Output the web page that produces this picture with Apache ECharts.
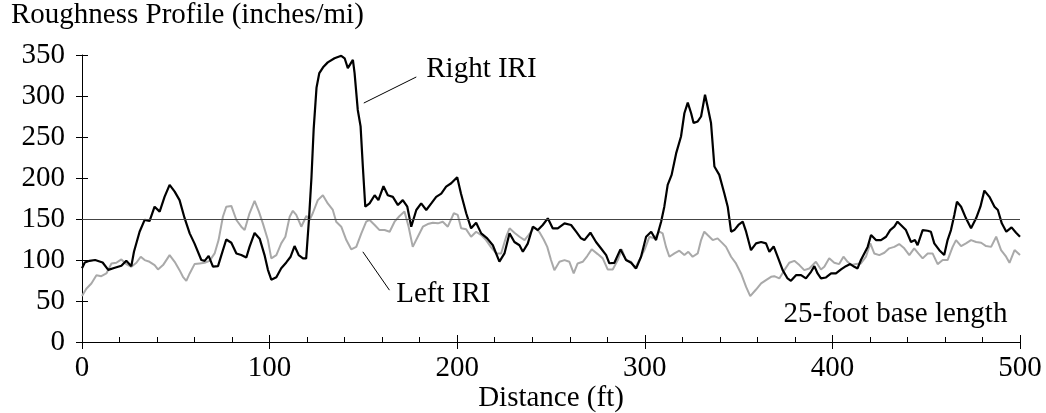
<!DOCTYPE html>
<html><head><meta charset="utf-8">
<script src="https://cdn.jsdelivr.net/npm/echarts@6/dist/echarts.min.js"></script>
<style>html,body{margin:0;padding:0;background:#fff}#c{width:1046px;height:413px}</style>
</head><body><div id="c"></div>
<script>
// ---- Data ----
const chartTitle = 'Roughness Profile (inches/mi)';
const xAxisTitle = 'Distance (ft)';
const yTicks = [0, 50, 100, 150, 200, 250, 300, 350];
const xTicks = [0, 100, 200, 300, 400, 500];
const thresholdValue = 150;

const rightDist = [0,1.5,4,7,11,14,17.5,21,23.6,26.3,27.7,30.7,33.4,36,38.7,41.4,44,46.7,49.4,52,54.7,57.4,60,63.6,65.4,67.5,69.8,72.5,74.3,76.9,79.6,82.3,84.9,87.6,89.3,92,94.7,97.3,99.1,100.9,103.6,106.2,108.9,111.2,113.3,115.5,117.8,119.5,121,122.3,123.5,125,126.5,128.5,131,134.6,138.2,140,141.7,144.4,145.3,147,148.5,149.7,151,153.3,156,158,160.7,163,165.7,168.4,171,173.4,175.5,178.2,180.8,183.5,186.2,188.8,191.5,194.1,196.8,200,202,204.8,207.4,210.1,212.8,216,219,222.5,225.2,227.9,230.5,233.2,235,237.6,240.3,243,245.6,248.3,250.9,253.6,257.2,260.7,263.4,266,267.8,271,274,276.7,279.4,281.1,283.8,287,290,292.7,295.4,298,300.7,303.4,306,308.7,310.4,312.2,314.3,316.7,319.3,321.1,322.9,324.7,326,328.2,330,332.1,333.5,335.3,337.1,339.7,342.4,344.2,346,347.7,349.9,352.2,354,356.6,359.3,362,364.6,366.4,368.7,370.8,373.5,376.1,377.9,380.6,383.3,385.9,388.6,390.4,392.1,393.9,396.6,399.3,401.9,404.6,407.2,409.5,411.7,413.4,415.2,417,418.8,420.6,423.2,425.9,428.6,430.8,433,434.7,436.5,439.2,441.9,444,445.4,448.1,450.8,452.5,454.3,457,459.6,461.4,463.2,465,466.4,468.6,471.2,473.9,476.6,478.9,481,483.7,486.4,488.2,490.3,492.7,495.5,497.9,500];
const rightIRI = [90,97,99,100,97,88,90.5,93,99,92.5,110,134.5,149,147.5,165,159,177,191.6,183.4,173,151,132.5,120,100,99,105,92,92.5,106,125,121,108,106,103,116,133,126,106,88,76,79,90,97,104,117,106,102,102,150,200,260,310,328,335,341,346,349,346,334,344,328,283,263,214,165,169,179,173,190,179,177,167,173,165,140.6,161,169,161,169,177,181,189.5,193.6,201,181,157,138.6,145.5,132.5,126.4,118,98,108,132.5,122,118,110,120,140.6,136.5,142.7,150.8,138.6,138.6,144.7,142.7,134.5,126.4,124.3,133.3,122,114,106,96,96.6,113,100,96.6,89.7,104,128.4,134.5,124.3,146.7,165,191.6,203.8,230,250.6,279,292,279,267,269,275,301.6,287,267,214,203.8,181,165,134.5,136.5,142.7,146.7,134.5,112,120.3,122,120.3,110,116.5,104,87.6,77.5,74.6,81.5,81.5,77.5,85.6,92.5,83.6,77.5,78.7,83.6,83.6,88.5,92.5,95,91.7,89.7,100,108,116,130.4,124.3,124.3,128.4,136.5,140.6,146.7,142.7,136.5,122,124.3,118,136.5,135.7,134.5,120.3,112,106,124.3,136.5,155,171,165,150.8,138.6,150.8,165,184.6,177,165,161,144.7,134.5,139.8,133.3,128.4];

const leftDist = [0,2.3,5,7.7,10.3,13,15.7,18.3,21,23.6,26.3,29,31.3,33.4,36,38.7,40.5,43.2,46.7,49.4,52,53.8,55.6,57.4,60,62.7,65.4,68,70.7,72.8,75.1,76.9,79.6,82.3,84.9,86.7,89.3,92,94.3,96.4,99.1,100.9,103.6,106.2,108.4,110.7,112.4,114.2,116.9,119.6,121.3,123,125.7,128.4,131,133.7,135.5,138.2,140.9,143.5,146.2,148.9,151.5,153.3,156,158.6,161.3,164,166.6,169.3,171.9,174.1,176.3,179,181.7,184.3,187,189.7,192.3,195,198.2,200.3,202.1,204.8,207.4,210.1,212.8,215.4,218.1,220.8,223.4,226.1,227.9,230.5,233.2,235.9,238,241.2,243.8,246.1,248,250,251.8,254.5,257.2,259.8,262.1,264.2,266.9,269.3,271.7,274.9,277.6,280.2,282.9,285.6,287.7,290,292.7,294.8,297.1,299.8,302.5,305.1,307.8,309.5,311.3,313.1,315.8,318.4,321.1,323.2,325.5,328.2,330,331.7,333.5,336.2,338.8,341.5,343.3,346,348.6,351.3,354,356.2,359.3,362,364.6,367.3,369,371.7,374.4,377,379.7,382.4,385,387.7,391.2,393.9,395.7,398.3,401,403.6,405.9,408.1,410.2,412.6,415.2,417.9,420.2,422.3,425,427.7,430.3,433,435.6,438.3,441,443.6,445.8,448.1,450.8,453.4,456.1,458.8,461.4,464.1,465.9,468.6,471.2,473.9,476.6,479.3,481.9,484.6,487.3,489.9,492.6,494.4,497.1,500];
const leftIRI = [56,65,71.4,81.5,80.3,83.6,95.8,96.6,100.7,95,91.7,96.6,104,99.9,97.8,93.8,88.5,93.8,106,97.8,87.6,79.5,74.6,83.6,95,95.8,96.6,99,108,124.3,152.8,165,165.9,148.8,140.6,136.5,157,172,159,144.7,124.3,102,106,120.3,128.4,152.8,160,155,140.6,153.7,148.8,157,173,179,169,161,146.7,140.6,124.3,113,116,132.5,146.7,148.8,142.7,136.5,136.5,134.5,146.7,153.7,159,140.6,116,128.4,140.6,143.9,145.5,144.7,146.7,140.6,157,155,138.6,137.4,128.4,134.5,130.4,124.3,115.4,108,108,128.4,138.6,133.3,128.4,124.3,130.4,140,134,125,116,100,87.6,97.8,99.9,97.8,83.6,95.8,97.8,104.8,113,107.2,102,88.5,88.5,99.9,113,99.9,97.8,89.7,99.9,112.1,128.4,126.4,134.5,132.5,116,104,108,111.3,106,110,104,108,124.3,134.5,130.4,124.3,126.4,120.3,116,104,95.8,83.6,67.2,56,64,71.4,75.4,79.5,80.3,77.5,87.6,96.6,99,93.8,87.6,89.7,97.8,88.5,91.7,102,96.6,95,104,97.8,93.8,95,95.8,104,120.3,108,106,108.8,114.2,116,119.4,114.2,106,114.2,108,102,108,108,95,99.9,99.9,116,124.3,117,120.3,124.3,122,121,117,116,128.4,112.1,104,96.6,112.1,106];

// annotation texts (anchored in data coordinates)
const rightLabel = 'Right IRI', rightLabelAt = [183.5, 332], rightLeader = [[150.2, 291.4], [178.2, 323.2]];
const leftLabel = 'Left IRI', leftLabelAt = [167.5, 57.7], leftLeader = [[149.7, 110], [163.9, 63.2]];
const noteLabel = '25-foot base length', noteLabelAt = [493.3, 33.9];

// ---- Chart ----
const F = '"Liberation Serif", "Times New Roman", "DejaVu Serif", serif';
const FS = 29;
const zip = (xs, ys) => xs.map((x, i) => [x, ys[i]]);
const chart = echarts.init(document.getElementById('c'), null, {renderer: 'canvas'});
const tickStyle = {color: '#000', width: 1};
chart.setOption({
  animation: false,
  backgroundColor: '#fff',
  title: {text: chartTitle, left: 11, top: 1, padding: 0,
    textStyle: {fontSize: FS, fontWeight: 'normal', fontFamily: F, color: '#000'}},
  grid: {left: 82, right: 26, top: 55, bottom: 71, containLabel: false, outerBoundsMode: 'none'},
  xAxis: [
    {type: 'value', min: xTicks[0], max: xTicks[xTicks.length - 1], interval: 100, position: 'bottom',
      name: xAxisTitle, nameLocation: 'middle', nameGap: 42, nameMoveOverlap: false,
      nameTextStyle: {fontSize: FS, fontFamily: F, color: '#000'},
      axisLine: {show: true, onZero: false, lineStyle: tickStyle},
      axisTick: {show: true, inside: false, length: 7, lineStyle: tickStyle},
      axisLabel: {fontSize: FS, fontFamily: F, color: '#000', margin: 12},
      splitLine: {show: false}},
    {type: 'value', min: xTicks[0], max: xTicks[xTicks.length - 1], interval: 100, position: 'bottom', offset: 0,
      axisLine: {show: false},
      axisTick: {show: true, inside: true, length: 7, lineStyle: tickStyle},
      minorTick: {show: true, splitNumber: 5, length: 5, lineStyle: tickStyle},
      axisLabel: {show: false}, splitLine: {show: false}, minorSplitLine: {show: false}}
  ],
  yAxis: [
    {type: 'value', min: yTicks[0], max: yTicks[yTicks.length - 1], interval: 50, position: 'left',
      axisLine: {show: true, onZero: false, lineStyle: tickStyle},
      axisTick: {show: true, inside: false, length: 6, lineStyle: tickStyle},
      axisLabel: {fontSize: FS, fontFamily: F, color: '#000', margin: 17},
      splitLine: {show: false}},
    {type: 'value', min: yTicks[0], max: yTicks[yTicks.length - 1], interval: 50, position: 'left', offset: 0,
      axisLine: {show: false},
      axisTick: {show: true, inside: true, length: 6, lineStyle: tickStyle},
      axisLabel: {show: false}, splitLine: {show: false}}
  ],
  series: [
    {name: 'Left IRI', type: 'line', xAxisIndex: 0, yAxisIndex: 0, data: zip(leftDist, leftIRI),
      showSymbol: false, symbol: 'none', smooth: false,
      lineStyle: {color: '#a9a9a9', width: 2}},
    {name: 'Right IRI', type: 'line', xAxisIndex: 0, yAxisIndex: 0, data: zip(rightDist, rightIRI),
      showSymbol: false, symbol: 'none', smooth: false,
      lineStyle: {color: '#000', width: 2.2},
      markLine: {silent: true, symbol: 'none', label: {show: false},
        lineStyle: {color: '#444', width: 1.2, type: 'solid'},
        data: [{yAxis: thresholdValue}]}}
  ]
});

const P = p => chart.convertToPixel({xAxisIndex: 0, yAxisIndex: 0}, p);
const lineEl = (a, b) => {
  const p1 = P(a), p2 = P(b);
  return {type: 'line', shape: {x1: p1[0], y1: p1[1], x2: p2[0], y2: p2[1]},
    style: {stroke: '#000', lineWidth: 1}, silent: true};
};
const textEl = (t, at, align) => {
  const p = P(at);
  return {type: 'text', x: p[0], y: p[1], silent: true,
    style: {text: t, fontSize: FS, fontFamily: F, fill: '#000', textAlign: align, textVerticalAlign: 'middle', verticalAlign: 'middle'}};
};
chart.setOption({graphic: [
  lineEl(rightLeader[0], rightLeader[1]),
  lineEl(leftLeader[0], leftLeader[1]),
  textEl(rightLabel, rightLabelAt, 'left'),
  textEl(leftLabel, leftLabelAt, 'left'),
  textEl(noteLabel, noteLabelAt, 'right')
]});
</script>
</body></html>
